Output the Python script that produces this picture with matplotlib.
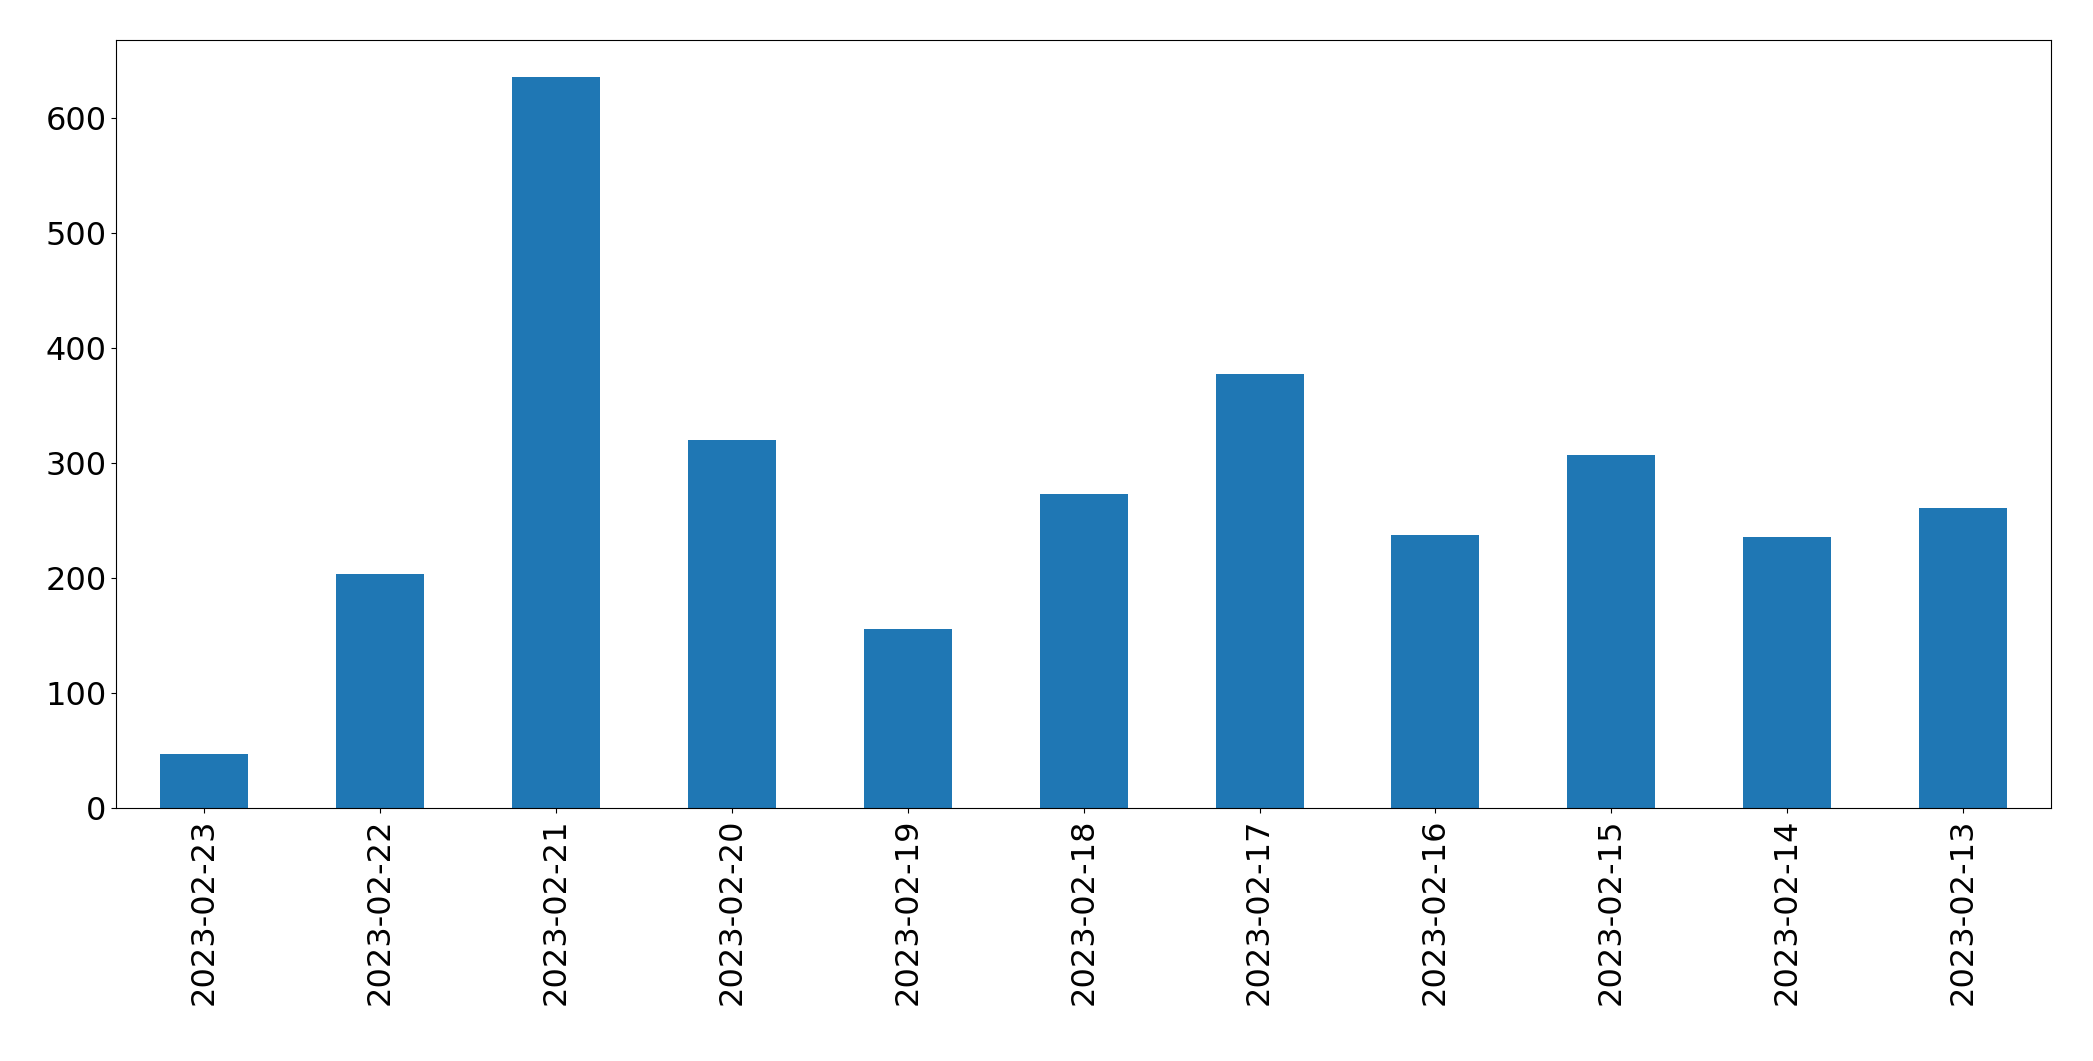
import matplotlib
matplotlib.use("Agg")
import matplotlib.pyplot as plt
import pandas as pd

dates = ["2023-02-23", "2023-02-22", "2023-02-21", "2023-02-20", "2023-02-19",
         "2023-02-18", "2023-02-17", "2023-02-16", "2023-02-15", "2023-02-14",
         "2023-02-13"]
counts = [47, 204, 636, 320, 156, 273, 378, 238, 307, 236, 261]

s = pd.Series(counts, index=dates)

fig = plt.figure(figsize=(20.93, 10.61), dpi=100)
ax = fig.add_axes([0.0555, 0.238, 0.9245, 0.724])
s.plot(kind="bar", ax=ax, color="#1f77b4")
ax.tick_params(axis="both", labelsize=23)
for lbl in ax.get_xticklabels():
    lbl.set_rotation(90)

fig.savefig("out.png", dpi=100)
